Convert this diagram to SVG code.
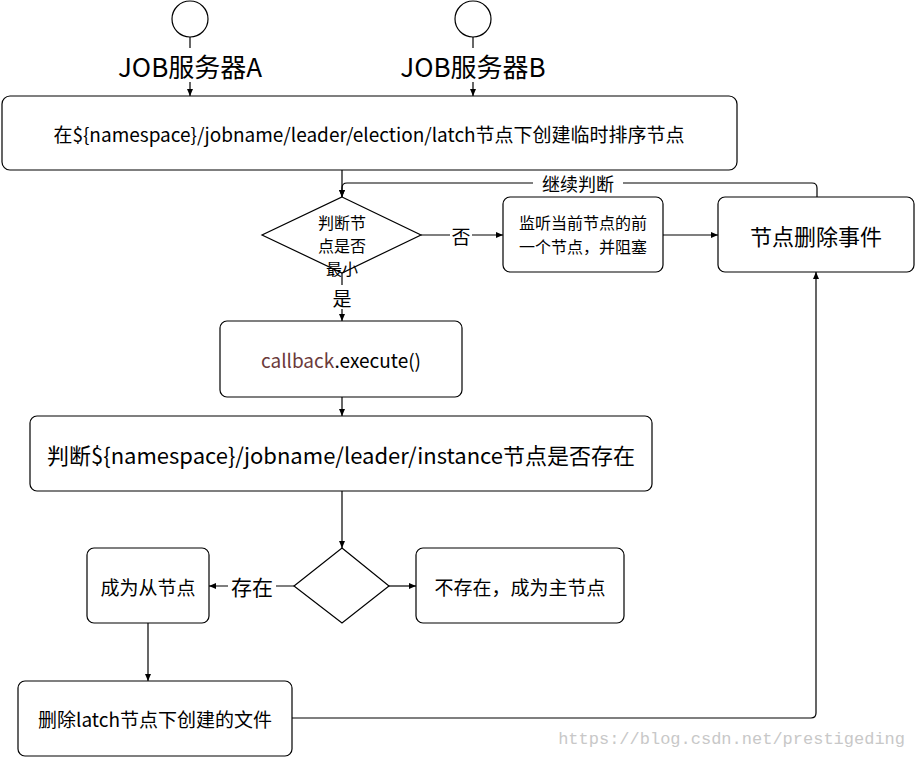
<svg xmlns="http://www.w3.org/2000/svg" width="916" height="757" viewBox="0 0 916 757">
<style>
.b{fill:#fff;stroke:#000;stroke-width:1.2}
.t{font-family:"Noto Sans CJK SC","Liberation Sans",sans-serif;fill:#000;text-anchor:middle;dominant-baseline:central}
.c{fill:none;stroke:#000;stroke-width:1.2}
</style>
<defs><marker id="a" markerWidth="8" markerHeight="8" refX="7" refY="4" orient="auto" markerUnits="userSpaceOnUse"><path d="M0,1 L7,4 L0,7 Z" fill="#000"/></marker></defs>
<rect width="916" height="757" fill="#fff"/>
<g id="connectors">
<path class="c" d="M190,37 V96" marker-end="url(#a)"/>
<path class="c" d="M473,37 V96" marker-end="url(#a)"/>
<path class="c" d="M342,170 V197" marker-end="url(#a)"/>
<path class="c" d="M817,197 V188 Q817,183 812,183 H347 Q342,183 342,188 V197" marker-end="url(#a)"/>
<rect x="533" y="172" width="90" height="22" fill="#fff"/>
<text class="t" x="578" y="183" font-size="18">继续判断</text>
<path class="c" d="M421,235 H503" marker-end="url(#a)"/>
<rect x="450" y="224" width="22" height="22" fill="#fff"/>
<text class="t" x="461" y="235" font-size="19">否</text>
<path class="c" d="M663,235 H718" marker-end="url(#a)"/>
<path class="c" d="M342,273 V321" marker-end="url(#a)"/>
<rect x="330" y="285" width="24" height="24" fill="#fff"/>
<text class="t" x="342" y="297" font-size="19">是</text>
<path class="c" d="M342,397 V416" marker-end="url(#a)"/>
<path class="c" d="M342,491 V548" marker-end="url(#a)"/>
<path class="c" d="M389,586 H416" marker-end="url(#a)"/>
<path class="c" d="M294,586 H209" marker-end="url(#a)"/>
<rect x="228" y="573" width="48" height="26" fill="#fff"/>
<text class="t" x="252" y="586" font-size="21">存在</text>
<path class="c" d="M148,623 V681" marker-end="url(#a)"/>
<path class="c" d="M292,718 H811 Q816,718 816,713 V272" marker-end="url(#a)"/>
</g>
<g id="serverA"><circle class="b" cx="190" cy="19" r="18"/><rect x="108" y="48" width="164" height="34" fill="#fff"/><text class="t" x="190" y="65" font-size="26">JOB服务器A</text></g>
<g id="serverB"><circle class="b" cx="473" cy="19" r="18"/><rect x="390" y="48" width="166" height="34" fill="#fff"/><text class="t" x="473" y="65" font-size="26">JOB服务器B</text></g>
<g id="create"><rect class="b" x="2" y="96" width="735" height="74" rx="8"/><text class="t" x="369" y="133" font-size="19">在${namespace}/jobname/leader/election/latch节点下创建临时排序节点</text></g>
<g id="isMin"><path class="b" d="M342,197 L421,235 L342,273 L262,235 Z"/><text class="t" font-size="16"><tspan x="342" y="222">判断节</tspan><tspan x="342" y="245">点是否</tspan><tspan x="342" y="268">最小</tspan></text></g>
<g id="watch"><rect class="b" x="503" y="197" width="160" height="75" rx="7"/><text class="t" font-size="16"><tspan x="583" y="222">监听当前节点的前</tspan><tspan x="583" y="246">一个节点，并阻塞</tspan></text></g>
<g id="delEvent"><rect class="b" x="718" y="197" width="196" height="75" rx="7"/><text class="t" x="816" y="235" font-size="22">节点删除事件</text></g>
<g id="callback"><rect class="b" x="220" y="321" width="242" height="76" rx="7"/><text class="t" x="341" y="359" font-size="19" font-family="'DejaVu Sans Mono',monospace"><tspan fill="#6b3a3a">callback</tspan>.execute()</text></g>
<g id="checkInst"><rect class="b" x="30" y="416" width="622" height="75" rx="7"/><text class="t" x="341" y="454" font-size="22">判断${namespace}/jobname/leader/instance节点是否存在</text></g>
<g id="exists"><path class="b" d="M342,548 L389,586 L342,623 L294,586 Z"/></g>
<g id="master"><rect class="b" x="416" y="548" width="208" height="75" rx="7"/><text class="t" x="520" y="586" font-size="19">不存在，成为主节点</text></g>
<g id="slave"><rect class="b" x="87" y="548" width="122" height="75" rx="7"/><text class="t" x="148" y="586" font-size="19">成为从节点</text></g>
<g id="delFile"><rect class="b" x="18" y="681" width="274" height="75" rx="7"/><text class="t" x="155" y="718" font-size="19">删除latch节点下创建的文件</text></g>
<text x="905" y="744" text-anchor="end" font-family="'Liberation Mono',monospace" font-size="17" fill="#c8c8c8">https://blog.csdn.net/prestigeding</text>
</svg>
